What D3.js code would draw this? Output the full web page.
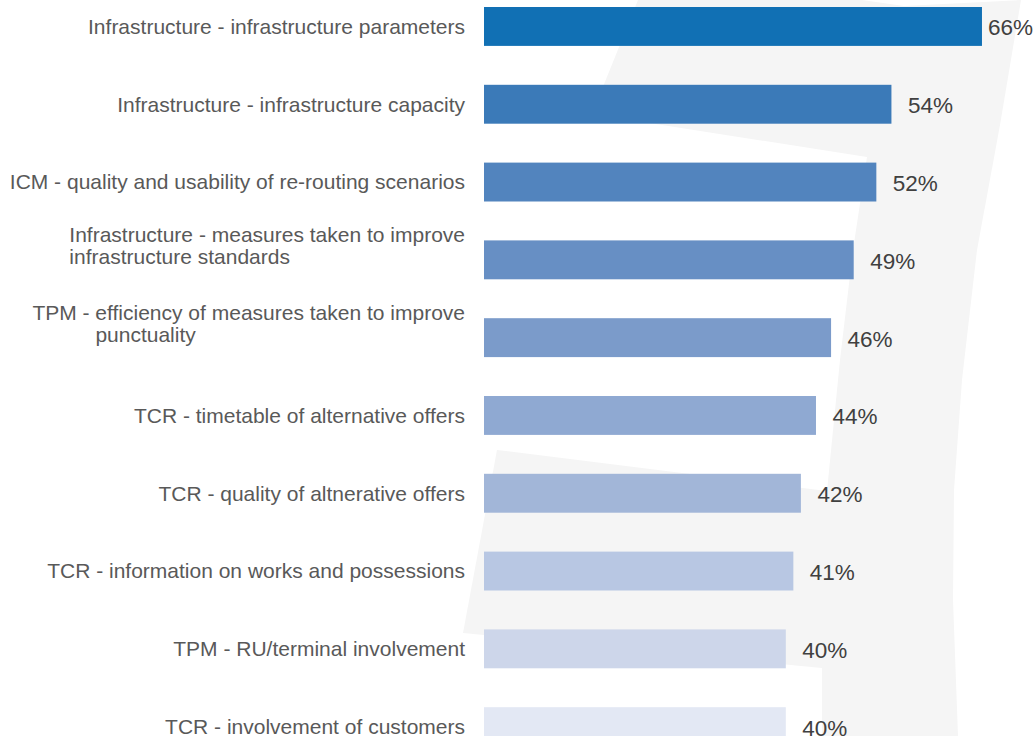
<!DOCTYPE html>
<html>
<head>
<meta charset="utf-8">
<style>
  body { margin: 0; background: #fff; }
  svg { display: block; font-family: "Liberation Sans", Arial, sans-serif; }
</style>
</head>
<body>
<div id="chart"></div>
<script src="https://d3js.org/d3.v7.min.js"></script>
<script>
  // ---- data ----
  var categories = [
    "Infrastructure - infrastructure parameters",
    "Infrastructure - infrastructure capacity",
    "ICM - quality and usability of re-routing scenarios",
    "Infrastructure - measures taken to improve infrastructure standards",
    "TPM - efficiency of measures taken to improve punctuality",
    "TCR - timetable of alternative offers",
    "TCR - quality of altnerative offers",
    "TCR - information on works and possessions",
    "TPM - RU/terminal involvement",
    "TCR - involvement of customers"
  ];
  // how each label is broken into lines on the page
  var labelLines = [
    ["Infrastructure - infrastructure parameters"],
    ["Infrastructure - infrastructure capacity"],
    ["ICM - quality and usability of re-routing scenarios"],
    ["Infrastructure - measures taken to improve", "infrastructure standards"],
    ["TPM - efficiency of measures taken to improve", "punctuality"],
    ["TCR - timetable of alternative offers"],
    ["TCR - quality of altnerative offers"],
    ["TCR - information on works and possessions"],
    ["TPM - RU/terminal involvement"],
    ["TCR - involvement of customers"]
  ];
  // second line hangs under the text that follows this prefix
  var hangPrefix = ["", "", "", "", "TPM - ", "", "", "", "", ""];
  var values = [66, 54, 52, 49, 46, 44, 42, 41, 40, 40];
  var barColors = ["#1170b4", "#3b7ab8", "#5284be", "#678fc4", "#7b9bca",
                   "#8fa9d2", "#a2b6d8", "#b8c7e3", "#cdd6ea", "#e3e8f4"];

  var width = 1035, height = 736;
  var labelRight = 465;

  var svg = d3.select("#chart").append("svg")
    .attr("width", width)
    .attr("height", height);

  // decorative grey watermark behind the chart
  svg.append("path")
    .attr("fill", "#f5f5f5")
    .attr("d", "M638,0 L862,0 L904,6 L1021,0 L1000,125 L977,250 L962,380 L954,490 L953,600 L958,736 " +
               "L822,736 L822,668 L463,633 L497,450 L827,491 L840,360 L853,250 L867,157 L592,114 Z");

  var x = d3.scaleLinear()
    .domain([0, 100])
    .range([484, 484 + 754.5]);

  var y = d3.scaleBand()
    .domain(categories)
    .range([-12.45, 765.55])
    .paddingInner(0.5)
    .paddingOuter(0.25);

  var rows = categories.map(function(c, i) {
    return { cat: c, val: values[i], color: barColors[i], lines: labelLines[i], hang: hangPrefix[i] };
  });

  svg.append("g").selectAll("rect")
    .data(rows)
    .enter().append("rect")
    .attr("x", x(0))
    .attr("y", function(d) { return y(d.cat); })
    .attr("width", function(d) { return x(d.val) - x(0); })
    .attr("height", y.bandwidth())
    .attr("fill", function(d) { return d.color; });

  // category labels
  var labels = svg.append("g")
    .attr("font-size", "21px")
    .attr("fill", "#595959");

  rows.forEach(function(d) {
    var cy = y(d.cat) + y.bandwidth() / 2;
    if (d.lines.length === 1) {
      labels.append("text")
        .attr("x", labelRight)
        .attr("y", cy + 7.4)
        .attr("text-anchor", "end")
        .text(d.lines[0]);
    } else {
      var first = labels.append("text")
        .attr("x", labelRight)
        .attr("y", cy - 17.5)
        .attr("text-anchor", "end")
        .text(d.lines[0]);
      var startX = labelRight - first.node().getComputedTextLength();
      var indent = 0;
      if (d.hang) {
        var tmp = labels.append("text").attr("xml:space", "preserve").text(d.hang);
        indent = tmp.node().getComputedTextLength();
        tmp.remove();
      }
      labels.append("text")
        .attr("x", startX + indent)
        .attr("y", cy + 4.5)
        .text(d.lines[1]);
    }
  });

  // value labels
  var vals = svg.append("g")
    .attr("font-size", "22.5px")
    .attr("fill", "#404040");

  rows.forEach(function(d) {
    var t = vals.append("text")
      .attr("y", y(d.cat) + y.bandwidth() / 2 + 9)
      .text(d.val + "%");
    var w = t.node().getComputedTextLength();
    t.attr("x", Math.min(x(d.val) + 16.5, width - w - 2));
  });
</script>
</body>
</html>
